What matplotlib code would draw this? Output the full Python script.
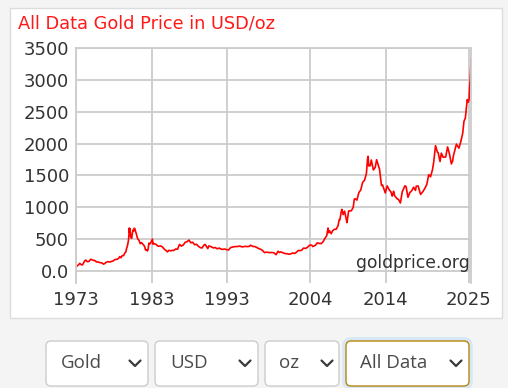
import numpy as np
import matplotlib
matplotlib.use('Agg')
import matplotlib.pyplot as plt
from matplotlib.patches import FancyBboxPatch, Rectangle

# gold price, USD/oz (approximate)
dates = [1973.0, 1973.2, 1973.35, 1973.5, 1973.65, 1973.85, 1974.0,
         1974.15, 1974.3, 1974.45, 1974.6, 1974.75, 1974.95,
         1975.1, 1975.3, 1975.5, 1975.7, 1975.95,
         1976.2, 1976.45, 1976.65, 1976.8, 1976.95,
         1977.2, 1977.45, 1977.7, 1977.95,
         1978.2, 1978.45, 1978.7, 1978.8, 1978.95,
         1979.1, 1979.3, 1979.45, 1979.6, 1979.7, 1979.8, 1979.92,
         1980.0, 1980.05, 1980.1, 1980.15, 1980.22, 1980.3, 1980.38, 1980.47,
         1980.55, 1980.63, 1980.72, 1980.8, 1980.88, 1980.96,
         1981.1, 1981.2, 1981.35, 1981.5, 1981.6, 1981.7, 1981.85, 1981.95,
         1982.1, 1982.2, 1982.35, 1982.45, 1982.55, 1982.65, 1982.75, 1982.9,
         1983.05, 1983.12, 1983.2, 1983.3, 1983.5, 1983.65, 1983.8, 1983.95,
         1984.2, 1984.45, 1984.7, 1984.95,
         1985.1, 1985.3, 1985.55, 1985.8, 1985.95,
         1986.2, 1986.45, 1986.7, 1986.95,
         1987.2, 1987.45, 1987.7, 1987.95,
         1988.2, 1988.45, 1988.7, 1988.95,
         1989.2, 1989.45, 1989.7, 1989.95,
         1990.1, 1990.45, 1990.6, 1990.95,
         1991.2, 1991.45, 1991.7, 1991.95,
         1992.2, 1992.45, 1992.7, 1992.95,
         1993.2, 1993.45, 1993.6, 1993.95,
         1994.2, 1994.45, 1994.7, 1994.95,
         1995.2, 1995.45, 1995.7, 1995.95,
         1996.1, 1996.45, 1996.7, 1996.95,
         1997.2, 1997.45, 1997.7, 1997.95,
         1998.2, 1998.45, 1998.7, 1998.95,
         1999.2, 1999.5, 1999.75, 1999.95,
         2000.1, 2000.45, 2000.7, 2000.95,
         2001.2, 2001.45, 2001.7, 2001.95,
         2002.2, 2002.45, 2002.7, 2002.95,
         2003.1, 2003.45, 2003.7, 2003.95,
         2004.2, 2004.35, 2004.7, 2004.95,
         2005.2, 2005.45, 2005.7, 2005.95,
         2006.2, 2006.37, 2006.45, 2006.55, 2006.8, 2006.95,
         2007.2, 2007.45, 2007.7, 2007.85, 2007.95,
         2008.1, 2008.2, 2008.37, 2008.55, 2008.8, 2008.87, 2008.95,
         2009.1, 2009.45, 2009.7, 2009.85, 2009.95,
         2010.2, 2010.45, 2010.7, 2010.95,
         2011.2, 2011.45, 2011.6, 2011.68, 2011.75, 2011.95,
         2012.1, 2012.37, 2012.62, 2012.8, 2012.95,
         2013.2, 2013.3, 2013.45, 2013.6, 2013.95,
         2014.2, 2014.45, 2014.7, 2014.87, 2014.95,
         2015.05, 2015.2, 2015.55, 2015.7, 2015.95,
         2016.2, 2016.55, 2016.7, 2016.95,
         2017.2, 2017.45, 2017.7, 2017.95,
         2018.05, 2018.3, 2018.62, 2018.95,
         2019.2, 2019.45, 2019.7, 2019.95,
         2020.2, 2020.37, 2020.6, 2020.85, 2020.95,
         2021.2, 2021.37, 2021.62, 2021.95,
         2022.2, 2022.45, 2022.7, 2022.87, 2022.95,
         2023.2, 2023.37, 2023.7, 2023.95,
         2024.2, 2024.37, 2024.55, 2024.8, 2024.95,
         2025.05, 2025.12, 2025.2, 2025.27, 2025.3]
prices = [65, 84, 100, 120, 103, 95, 125,
          160, 172, 150, 146, 155, 185,
          178, 167, 165, 142, 140,
          131, 126, 108, 117, 134,
          148, 141, 150, 161,
          183, 183, 206, 227, 208,
          240, 242, 280, 300, 355, 392, 460,
          540, 675, 600, 665, 554, 517, 514, 600,
          644, 627, 673, 662, 623, 595,
          530, 500, 480, 430, 440, 443, 420, 410,
          380, 330, 335, 315, 340, 438, 420, 445,
          480, 500, 420, 432, 422, 415, 394, 388,
          395, 377, 341, 320,
          300, 325, 317, 326, 322,
          346, 342, 418, 391,
          408, 450, 460, 486,
          443, 452, 413, 420,
          390, 367, 362, 409,
          417, 352, 395, 378,
          363, 368, 348, 361,
          344, 340, 345, 335,
          330, 366, 372, 382,
          384, 386, 392, 379,
          382, 387, 383, 387,
          405, 385, 383, 369,
          352, 341, 323, 289,
          296, 293, 289, 291,
          286, 256, 311, 290,
          300, 285, 273, 272,
          263, 270, 283, 276,
          295, 324, 319, 333,
          359, 356, 378, 407,
          406, 384, 405, 442,
          434, 430, 457, 510,
          557, 675, 600, 633, 586, 629,
          655, 656, 712, 806, 804,
          920, 968, 886, 940, 807, 760, 816,
          943, 945, 997, 1128, 1134,
          1113, 1232, 1271, 1391,
          1424, 1528, 1760, 1800, 1650, 1652,
          1742, 1586, 1626, 1747, 1688,
          1592, 1485, 1342, 1348, 1225,
          1336, 1279, 1241, 1176, 1201,
          1251, 1179, 1131, 1124, 1068,
          1245, 1337, 1326, 1157,
          1231, 1260, 1315, 1265,
          1331, 1335, 1202, 1250,
          1300, 1359, 1511, 1480,
          1591, 1715, 1968, 1866, 1858,
          1718, 1850, 1785, 1790,
          1948, 1837, 1681, 1726, 1798,
          1912, 1992, 1928, 2030,
          2160, 2350, 2400, 2690, 2650,
          2700, 2890, 3000, 3200, 3330]

x_ticks = [1973, 1983, 1993, 2004, 2014, 2025]
y_ticks = [0, 500, 1000, 1500, 2000, 2500, 3000, 3500]
y_labels = ['0.0', '500', '1000', '1500', '2000', '2500', '3000', '3500']
menus = ['Gold', 'USD', 'oz', 'All Data']

fig = plt.figure(figsize=(5.08, 3.88), dpi=100, facecolor='#f4f4f4')

# background layer in pixel coords
bg = fig.add_axes([0, 0, 1, 1], zorder=0)
bg.set_xlim(0, 508)
bg.set_ylim(388, 0)
bg.axis('off')
bg.add_patch(Rectangle((9.5, 7.5), 492, 310, facecolor='white', edgecolor='#dcdcdc', lw=1))
bg.text(18, 24, 'All Data Gold Price in USD/oz', color='#ff1a1a', fontsize=12.8,
        va='center', ha='left', family='DejaVu Sans')

# dropdowns
boxes = [(46, 102), (155, 103), (265, 74), (346, 123)]
text_x = [61, 170, 279, 360]
chev_x = [135, 245, 327, 456]
for i, m in enumerate(menus):
    x0, w = boxes[i]
    if i == 3:
        bg.add_patch(FancyBboxPatch((x0 - 1, 341 - 1), w + 2, 45 + 2,
                                    boxstyle='round,pad=0,rounding_size=6',
                                    facecolor='none', edgecolor='#d6e8f7', lw=4))
        ec = '#b8860b'
    else:
        ec = '#cccccc'
    bg.add_patch(FancyBboxPatch((x0, 341), w, 45, boxstyle='round,pad=0,rounding_size=5',
                                facecolor='white', edgecolor=ec, lw=1))
    bg.text(text_x[i], 363.5, m, fontsize=13.5, family='Open Sans', color='#4a4a4a',
            va='center', ha='left')
    cx = chev_x[i]
    bg.plot([cx - 5.5, cx, cx + 5.5], [360.5, 366, 360.5], color='#3a3a3a', lw=1.6,
            solid_capstyle='round', solid_joinstyle='round')

# chart
ax = fig.add_axes([76 / 508, 1 - 283 / 388, 395 / 508, 235 / 388], zorder=1)
ax.plot(dates, prices, color='red', lw=1.2)
ax.set_xlim(1973, 2025.3)
ax.set_ylim(-188, 3500)
ax.set_yticks(y_ticks)
ax.set_yticklabels(y_labels)
ax.set_xticks(x_ticks)
ax.grid(True, color='#cccccc', lw=1.3)
ax.set_axisbelow(True)
ax.tick_params(length=0, labelsize=13, labelcolor='#333333', pad=5)
ax.tick_params(axis='x', pad=6)
for s in ['top', 'left', 'right']:
    ax.spines[s].set_color('#cccccc')
    ax.spines[s].set_linewidth(1.3)
ax.spines['bottom'].set_visible(False)
ax.text(0.997, 0.085, 'goldprice.org', transform=ax.transAxes, ha='right', va='center',
        fontsize=12.3, color='#333333')

fig.savefig('out.png', dpi=100, facecolor=fig.get_facecolor())
